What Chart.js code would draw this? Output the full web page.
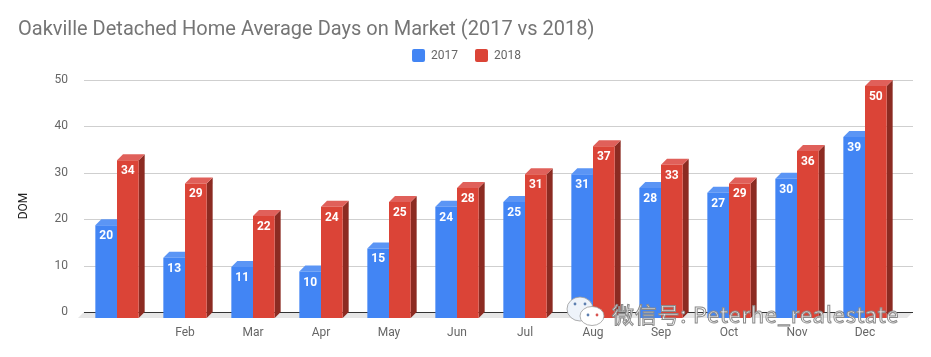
<!DOCTYPE html>
<html>
<head>
<meta charset="utf-8">
<style>
  html, body { margin: 0; padding: 0; background: #fff; }
</style>
<script src="https://cdn.jsdelivr.net/npm/chart.js@4"></script>
</head>
<body>
<canvas id="dom-chart" width="931" height="357" style="display:block"></canvas>
<script>
const chartTitle = 'Oakville Detached Home Average Days on Market (2017 vs 2018)';
const yAxisTitle = 'DOM';
const watermark = '微信号: Peterhe_realestate';
const categories = ['', 'Feb', 'Mar', 'Apr', 'May', 'Jun', 'Jul', 'Aug', 'Sep', 'Oct', 'Nov', 'Dec'];
const values2017 = [20, 13, 11, 10, 15, 24, 25, 31, 28, 27, 30, 39];
const values2018 = [34, 29, 22, 24, 25, 28, 31, 37, 33, 29, 36, 50];
const yTicks = [0, 10, 20, 30, 40, 50];

const depth = 6;
const plotHeight = 239;
const yTop = 50;
// grid axis sits one depth above the front faces of the bars
const yPad = yTop * depth / (plotHeight - depth);

function poly(ctx, color, pts) {
  ctx.fillStyle = color;
  ctx.beginPath();
  pts.forEach((p, i) => i ? ctx.lineTo(p[0], p[1]) : ctx.moveTo(p[0], p[1]));
  ctx.closePath();
  ctx.fill();
}

// gridlines, floor and the side/top faces of the bars
const backdrop = {
  id: 'backdrop',
  afterLayout(chart) {
    // legend is centred on the page, not on the padded box
    const legend = chart.legend;
    legend.left += 8;
    legend.right += 8;
    legend.top -= 8;
    legend.bottom -= 8;
  },
  beforeDatasetsDraw(chart) {
    const ctx = chart.ctx;
    const y = chart.scales.y;
    const left = chart.chartArea.left + 1;
    const right = chart.chartArea.right + 14;
    ctx.save();
    yTicks.forEach(v => {
      if (v === 0) return;
      ctx.fillStyle = '#cfcfcf';
      ctx.fillRect(left, Math.round(y.getPixelForValue(v)), right - left, 1);
    });
    const base = Math.round(y.getPixelForValue(0));
    poly(ctx, '#e6e6e6', [[left, base], [right, base], [right - depth, base + depth], [left - depth, base + depth]]);
    ctx.fillStyle = '#333';
    ctx.fillRect(left, base, right - left, 1);

    const faces = [
      { side: '#2f5fb0', top: '#5b95f5' },
      { side: '#8c2b22', top: '#e0605a' }
    ];
    chart.data.datasets.forEach((ds, i) => {
      chart.getDatasetMeta(i).data.forEach(bar => {
        const x0 = bar.x - bar.width / 2;
        const x1 = bar.x + bar.width / 2;
        poly(ctx, faces[i].side, [[x1, bar.y], [x1 + depth, bar.y - depth], [x1 + depth, bar.base - depth], [x1, bar.base]]);
        poly(ctx, faces[i].top, [[x0, bar.y], [x0 + depth, bar.y - depth], [x1 + depth, bar.y - depth], [x1, bar.y]]);
      });
    });
    ctx.restore();
  },
  afterDatasetsDraw(chart) {
    const ctx = chart.ctx;
    ctx.save();
    ctx.fillStyle = '#fff';
    ctx.font = 'bold 12px Roboto';
    ctx.textAlign = 'center';
    ctx.textBaseline = 'middle';
    chart.data.datasets.forEach((ds, i) => {
      chart.getDatasetMeta(i).data.forEach((bar, j) => {
        ctx.fillText(ds.data[j], bar.x, bar.y + 11);
      });
    });
    ctx.restore();
  },
  afterDraw(chart) {
    const ctx = chart.ctx;
    ctx.save();
    // axis title sits a bit below the middle of the plot
    ctx.save();
    ctx.translate(24, 206);
    ctx.rotate(-Math.PI / 2);
    ctx.fillStyle = '#222';
    ctx.font = '12px Roboto';
    ctx.textAlign = 'center';
    ctx.textBaseline = 'middle';
    ctx.fillText(yAxisTitle, 0, 0);
    ctx.restore();
    // wechat bubbles
    ctx.strokeStyle = '#9a9a9a';
    ctx.lineWidth = 0.8;
    ctx.fillStyle = '#eef3fa';
    ctx.beginPath();
    ctx.ellipse(580, 309, 13, 12, 0, 0, Math.PI * 2);
    ctx.fill();
    ctx.stroke();
    ctx.fillStyle = '#ffffff';
    ctx.beginPath();
    ctx.ellipse(592, 316, 12, 9.5, 0, 0, Math.PI * 2);
    ctx.fill();
    ctx.stroke();
    ctx.fillStyle = '#5d7fb0';
    [[575, 304], [585, 304], [588, 315]].forEach(p => {
      ctx.beginPath();
      ctx.arc(p[0], p[1], 1.4, 0, Math.PI * 2);
      ctx.fill();
    });
    ctx.fillStyle = '#d9534f';
    ctx.beginPath();
    ctx.arc(597, 315, 1.4, 0, Math.PI * 2);
    ctx.fill();
    // watermark text
    ctx.font = '22px "Noto Sans CJK SC"';
    ctx.textBaseline = 'alphabetic';
    ctx.textAlign = 'left';
    ctx.letterSpacing = '0.77px';
    ctx.lineWidth = 1;
    ctx.strokeStyle = '#8a8a8a';
    ctx.fillStyle = 'rgba(255,255,255,0.9)';
    ctx.fillText(watermark, 612, 323);
    ctx.strokeText(watermark, 612, 323);
    ctx.restore();
  }
};

new Chart(document.getElementById('dom-chart').getContext('2d'), {
  type: 'bar',
  data: {
    labels: categories,
    datasets: [
      { label: '2017', data: values2017, backgroundColor: '#4285f4', yAxisID: 'front', categoryPercentage: 0.637, barPercentage: 1 },
      { label: '2018', data: values2018, backgroundColor: '#db4437', yAxisID: 'front', categoryPercentage: 0.637, barPercentage: 1 }
    ]
  },
  options: {
    responsive: false,
    animation: false,
    layout: { padding: { left: 18, right: 32, top: 18, bottom: 0 } },
    plugins: {
      tooltip: { enabled: false },
      title: {
        display: true,
        text: chartTitle,
        align: 'start',
        color: '#757575',
        font: { family: 'Roboto', size: 20, weight: 'normal' },
        padding: { top: 0, bottom: -2 }
      },
      legend: {
        position: 'top',
        labels: {
          boxWidth: 13,
          boxHeight: 13,
          useBorderRadius: true,
          borderRadius: 2,
          color: '#666',
          font: { family: 'Roboto', size: 12 },
          padding: 17
        }
      }
    },
    scales: {
      x: {
        grid: { display: false },
        border: { display: false },
        ticks: { color: '#666', font: { family: 'Roboto', size: 12 }, autoSkip: false, maxRotation: 0, padding: 0 },
        afterFit(scale) { scale.height = 39; }
      },
      y: {
        min: -yPad,
        max: yTop,
        grid: { display: false },
        border: { display: false },
        ticks: { color: '#666', font: { family: 'Roboto', size: 12 }, padding: 7 },
        afterBuildTicks(scale) { scale.ticks = yTicks.map(v => ({ value: v })); },
        afterFit(scale) { scale.width = 65; }
      },
      front: {
        display: false,
        min: 0,
        max: yTop + yPad
      }
    }
  },
  plugins: [backdrop]
});
</script>
</body>
</html>
